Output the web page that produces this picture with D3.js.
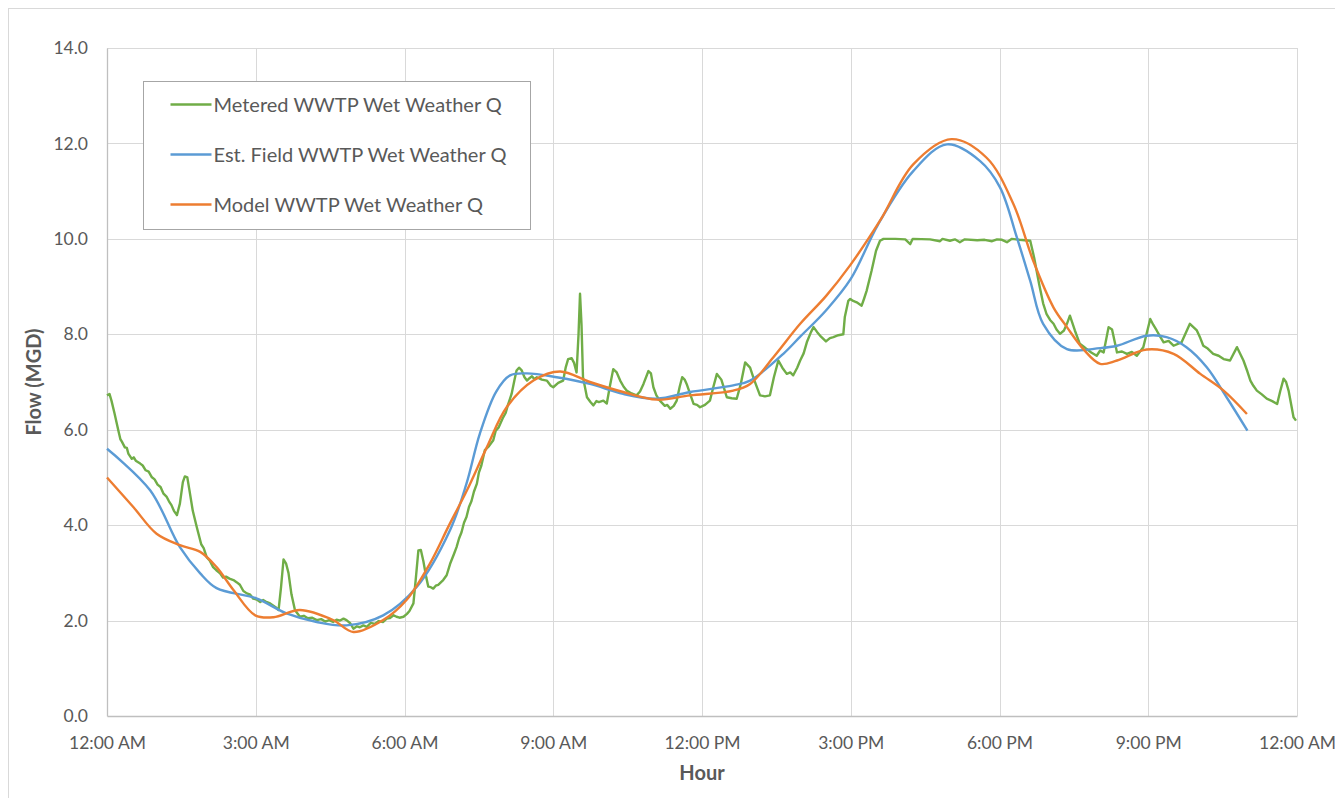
<!DOCTYPE html>
<html>
  <head>
    <title>WWTP wet weather flow</title>
    <meta charset="UTF-8" />
    <script src="https://d3js.org/d3.v7.min.js"></script>
    <style>
        body { margin: 0; background: #fff; }
        text { font-family: Lato, "Open Sans", sans-serif; fill: #595959; }
        .grid line { stroke: #d9d9d9; stroke-width: 1; }
        .series { fill: none; stroke-width: 2.4; stroke-linejoin: round; }
    </style>
  </head>
  <body>
    <script>
        // x tick labels, every 3 hours
        var hourTicks = [0, 3, 6, 9, 12, 15, 18, 21, 24];
        var hourLabels = ["12:00 AM", "3:00 AM", "6:00 AM", "9:00 AM", "12:00 PM", "3:00 PM", "6:00 PM", "9:00 PM", "12:00 AM"];
        var flowTicks = [0, 2, 4, 6, 8, 10, 12, 14];

        var seriesNames = ["Metered WWTP Wet Weather Q", "Est. Field WWTP Wet Weather Q", "Model WWTP Wet Weather Q"];
        var seriesColors = ["#70ad47", "#5b9bd5", "#ed7d31"];

        // metered flow [hour, MGD]
        var metered = [
            [0.00,6.72],[0.05,6.75],[0.09,6.61],[0.15,6.35],[0.23,5.98],[0.27,5.80],[0.30,5.75],[0.36,5.63],[0.40,5.62],[0.43,5.50],
            [0.50,5.39],[0.54,5.42],[0.58,5.35],[0.67,5.29],[0.72,5.25],[0.78,5.15],[0.84,5.12],[0.90,5.01],[0.96,4.96],[1.02,4.85],[1.08,4.80],[1.14,4.66],[1.20,4.60],[1.25,4.50],
            [1.30,4.42],[1.35,4.30],[1.41,4.21],[1.47,4.45],[1.53,4.90],[1.57,5.02],[1.62,5.00],[1.66,4.75],[1.73,4.30],
            [1.81,3.96],[1.90,3.60],[1.95,3.52],[2.01,3.33],[2.07,3.26],[2.14,3.12],[2.20,3.06],[2.28,2.99],[2.34,2.90],[2.40,2.92],[2.47,2.88],[2.55,2.85],[2.62,2.80],[2.68,2.75],
            [2.75,2.62],[2.82,2.57],[2.88,2.55],[2.95,2.46],[3.02,2.44],[3.09,2.39],[3.15,2.43],[3.20,2.40],[3.29,2.36],[3.40,2.28],[3.46,2.22],[3.51,2.70],
            [3.56,3.28],[3.61,3.20],[3.66,3.00],[3.72,2.55],[3.79,2.22],[3.89,2.08],[3.97,2.10],[4.05,2.05],[4.14,2.06],[4.23,2.01],
            [4.32,2.03],[4.40,1.98],[4.48,2.01],[4.56,1.97],[4.63,2.02],[4.70,2.00],[4.77,2.04],[4.83,2.01],[4.90,1.95],[4.97,1.83],[5.04,1.88],[5.10,1.86],[5.17,1.90],[5.24,1.87],
            [5.32,1.95],[5.40,1.93],[5.48,1.99],[5.57,1.97],[5.64,2.04],[5.70,2.05],[5.78,2.11],[5.84,2.08],[5.90,2.06],[5.98,2.08],[6.05,2.14],[6.10,2.20],[6.18,2.36],
            [6.23,2.90],[6.28,3.47],[6.33,3.48],[6.38,3.25],[6.44,2.90],[6.48,2.71],[6.53,2.70],[6.58,2.67],[6.63,2.73],[6.68,2.75],
            [6.78,2.85],[6.85,2.95],[6.92,3.19],[7.00,3.40],[7.05,3.54],[7.10,3.72],[7.15,3.85],[7.20,4.05],[7.25,4.17],[7.30,4.38],[7.35,4.50],[7.40,4.70],[7.46,4.87],
            [7.50,5.10],[7.55,5.25],[7.62,5.57],[7.70,5.65],[7.79,5.78],[7.84,5.98],[7.90,6.05],[7.99,6.26],[8.04,6.35],[8.08,6.50],[8.16,6.75],
            [8.22,7.05],[8.26,7.24],[8.31,7.30],[8.36,7.25],[8.42,7.10],[8.47,7.03],[8.52,7.08],[8.57,7.12],[8.62,7.06],[8.67,7.10],
            [8.77,7.05],[8.87,7.03],[8.95,6.92],[9.00,6.89],[9.10,6.98],[9.20,7.03],[9.25,7.30],[9.30,7.48],
            [9.37,7.50],[9.42,7.40],[9.47,7.20],[9.51,8.00],[9.54,8.85],[9.57,8.20],[9.60,7.10],[9.68,6.68],
            [9.75,6.58],[9.81,6.51],[9.87,6.60],[9.92,6.58],[10.01,6.61],[10.08,6.55],[10.14,6.90],[10.21,7.27],[10.28,7.20],
            [10.35,7.03],[10.42,6.90],[10.48,6.82],[10.58,6.76],[10.68,6.72],[10.75,6.80],[10.82,6.96],[10.92,7.23],[10.97,7.18],
            [11.02,6.89],[11.08,6.72],[11.15,6.61],[11.25,6.50],[11.30,6.52],[11.36,6.44],[11.43,6.50],[11.49,6.61],[11.55,6.90],
            [11.60,7.10],[11.65,7.05],[11.69,6.96],[11.76,6.75],[11.83,6.54],[11.90,6.52],[11.96,6.47],[12.06,6.52],[12.16,6.61],
            [12.23,6.90],[12.30,7.17],[12.39,7.05],[12.45,6.85],[12.50,6.68],[12.60,6.66],[12.70,6.65],[12.78,6.95],
            [12.87,7.41],[12.97,7.30],[13.05,7.05],[13.17,6.72],[13.27,6.70],[13.37,6.72],[13.45,7.10],[13.54,7.45],
            [13.62,7.30],[13.71,7.17],[13.78,7.20],[13.84,7.14],[13.92,7.30],[13.98,7.45],[14.05,7.60],[14.12,7.85],[14.20,8.05],
            [14.25,8.15],[14.32,8.05],[14.40,7.95],[14.50,7.85],[14.58,7.92],[14.65,7.94],[14.75,7.98],[14.85,8.00],
            [14.88,8.36],[14.95,8.70],[14.99,8.74],[15.05,8.70],[15.12,8.67],[15.22,8.60],[15.27,8.75],[15.32,8.91],
            [15.42,9.33],[15.51,9.75],[15.59,9.96],[15.66,10.00],[15.90,10.00],[16.10,9.99],[16.20,9.89],[16.25,10.00],
            [16.60,9.99],[16.80,9.95],[16.85,10.00],[17.00,9.96],[17.10,9.99],[17.20,9.93],[17.30,9.99],[17.55,9.97],
            [17.70,9.98],[17.85,9.95],[17.95,9.99],[18.05,9.98],[18.15,9.93],[18.25,10.00],[18.40,9.98],[18.62,9.96],
            [18.70,9.60],[18.80,9.05],[18.88,8.65],[18.95,8.42],[19.02,8.30],[19.09,8.22],[19.15,8.10],[19.22,8.01],[19.30,8.08],[19.36,8.22],[19.42,8.39],
            [19.52,8.08],[19.62,7.80],[19.70,7.74],[19.76,7.69],[19.85,7.62],[19.96,7.55],[20.03,7.66],[20.10,7.62],[20.20,8.15],[20.27,8.10],[20.37,7.62],
            [20.47,7.64],[20.57,7.59],[20.67,7.63],[20.77,7.55],[20.90,7.73],[21.04,8.32],[21.10,8.20],[21.17,8.08],[21.24,7.95],[21.31,7.83],[21.41,7.86],[21.51,7.76],[21.67,7.83],
            [21.84,8.22],[21.98,8.08],[22.05,7.92],[22.11,7.76],[22.20,7.70],[22.31,7.59],[22.42,7.55],[22.52,7.48],[22.65,7.45],[22.79,7.73],[22.92,7.45],
            [23.00,7.22],[23.06,7.03],[23.12,6.92],[23.19,6.82],[23.29,6.74],[23.39,6.65],[23.50,6.60],[23.60,6.54],[23.66,6.80],[23.73,7.07],[23.78,7.00],[23.83,6.82],[23.93,6.26],[23.98,6.19]
        ];

        // estimated field flow
        var estField = [
            [0,5.6],[0.87,4.73],[1.47,3.54],[1.88,2.99],[2.21,2.68],[3.0,2.47],[3.62,2.15],[4.23,1.97],
            [4.83,1.90],[5.57,2.11],[6.25,2.71],[6.92,3.9],[7.25,4.87],[7.52,5.92],[7.85,6.8],[8.13,7.14],
            [8.47,7.18],[9.07,7.1],[9.74,6.96],[10.41,6.75],[11.09,6.65],[11.76,6.79],[12.63,6.93],[12.97,7.03],
            [13.64,7.59],[13.98,7.95],[14.5,8.5],[15.0,9.16],[15.55,10.3],[16.26,11.42],[16.94,11.98],[17.61,11.63],
            [18.01,11.08],[18.35,10.03],[18.62,9.12],[18.88,8.22],[19.36,7.69],[20.03,7.71],[20.37,7.76],[20.97,7.97],
            [21.37,7.94],[21.77,7.73],[22.18,7.31],[22.58,6.68],[23.0,5.98]
        ];

        // model flow
        var model = [
            [0,5.0],[0.53,4.38],[1.0,3.82],[1.47,3.58],[1.88,3.44],[2.21,3.12],[2.55,2.64],[2.99,2.11],
            [3.36,2.07],[3.89,2.22],[4.56,2.01],[4.97,1.76],[5.57,2.01],[6.04,2.43],[6.51,3.19],[6.9,4.0],
            [7.26,4.73],[7.66,5.63],[8.06,6.47],[8.6,7.03],[9.14,7.22],[9.74,7.0],[10.41,6.79],[11.09,6.63],
            [11.76,6.72],[12.63,6.82],[12.97,6.96],[13.44,7.52],[13.98,8.22],[14.5,8.8],[14.99,9.45],[15.59,10.38],
            [16.26,11.56],[17.03,12.09],[17.74,11.7],[18.28,10.73],[18.68,9.54],[19.09,8.56],[19.36,8.15],[19.69,7.69],
            [20.03,7.38],[20.37,7.45],[20.97,7.68],[21.51,7.59],[22.05,7.17],[22.52,6.82],[22.99,6.33]
        ];

        var W = 1335, H = 798;
        var margin = { left: 107, top: 48, right: 38, bottom: 82 };
        var width = W - margin.left - margin.right,
            height = H - margin.top - margin.bottom;

        var svg = d3.select("body").append("svg")
            .attr("width", W)
            .attr("height", H);

        // chart area border (only left/top visible in frame)
        svg.append("rect")
            .attr("x", 8.5).attr("y", 8.5)
            .attr("width", W + 20).attr("height", H + 20)
            .attr("fill", "none").attr("stroke", "#d9d9d9");

        var g = svg.append("g")
            .attr("transform", "translate(" + margin.left + "," + margin.top + ")");

        var x = d3.scaleLinear().domain([0, 24]).range([0, width]);
        var y = d3.scaleLinear().domain([0, 14]).range([height, 0]);

        // gridlines
        g.append("g").attr("class", "grid")
            .selectAll("line").data(flowTicks.slice(1)).enter().append("line")
            .attr("x1", 0).attr("x2", width)
            .attr("y1", d => Math.round(y(d)) + 0.5).attr("y2", d => Math.round(y(d)) + 0.5);
        g.append("g").attr("class", "grid")
            .selectAll("line").data(hourTicks.slice(1)).enter().append("line")
            .attr("y1", 0).attr("y2", height)
            .attr("x1", d => Math.round(x(d)) + 0.5).attr("x2", d => Math.round(x(d)) + 0.5);

        // axes
        var xAxis = g.append("g")
            .attr("transform", "translate(0," + height + ")")
            .call(d3.axisBottom(x).tickValues(hourTicks).tickSize(0).tickPadding(21)
                .tickFormat((d, i) => hourLabels[i]));
        var yAxis = g.append("g")
            .call(d3.axisLeft(y).tickValues(flowTicks).tickSize(0).tickPadding(19)
                .tickFormat(d3.format(".1f")));
        [xAxis, yAxis].forEach(a => {
            a.select(".domain").attr("stroke", "#bfbfbf").attr("stroke-width", 1.3);
            a.selectAll("text").attr("font-size", 17.5).attr("fill", "#595959")
                .style("font-family", "Lato, sans-serif");
        });

        // series lines
        var line = d3.line()
            .x(d => x(d[0]))
            .y(d => y(d[1]));

        g.append("path").datum(metered)
            .attr("class", "series")
            .attr("stroke", seriesColors[0])
            .attr("d", line.curve(d3.curveLinear));
        g.append("path").datum(estField)
            .attr("class", "series")
            .attr("stroke", seriesColors[1])
            .attr("d", line.curve(d3.curveCatmullRom.alpha(0.5)));
        g.append("path").datum(model)
            .attr("class", "series")
            .attr("stroke", seriesColors[2])
            .attr("d", line.curve(d3.curveCatmullRom.alpha(0.5)));

        // axis titles
        svg.append("text")
            .attr("transform", "translate(41," + (margin.top + height / 2) + ") rotate(-90)")
            .attr("text-anchor", "middle")
            .attr("font-size", 20).attr("font-weight", "bold")
            .text("Flow (MGD)");
        svg.append("text")
            .attr("x", margin.left + width / 2).attr("y", 780)
            .attr("text-anchor", "middle")
            .attr("font-size", 20).attr("font-weight", "bold")
            .text("Hour");

        // legend
        var legend = svg.append("g").attr("transform", "translate(143.5,81.5)");
        legend.append("rect")
            .attr("width", 387).attr("height", 148)
            .attr("fill", "#fff").attr("stroke", "#a6a6a6");
        var item = legend.selectAll(".item").data(seriesNames).enter().append("g")
            .attr("transform", (d, i) => "translate(0," + (23 + i * 50) + ")");
        item.append("line")
            .attr("x1", 27).attr("x2", 68)
            .attr("stroke", (d, i) => seriesColors[i]).attr("stroke-width", 2.5);
        item.append("text")
            .attr("x", 70).attr("y", 7)
            .attr("font-size", 20)
            .text(d => d);
    </script>
  </body>
</html>
